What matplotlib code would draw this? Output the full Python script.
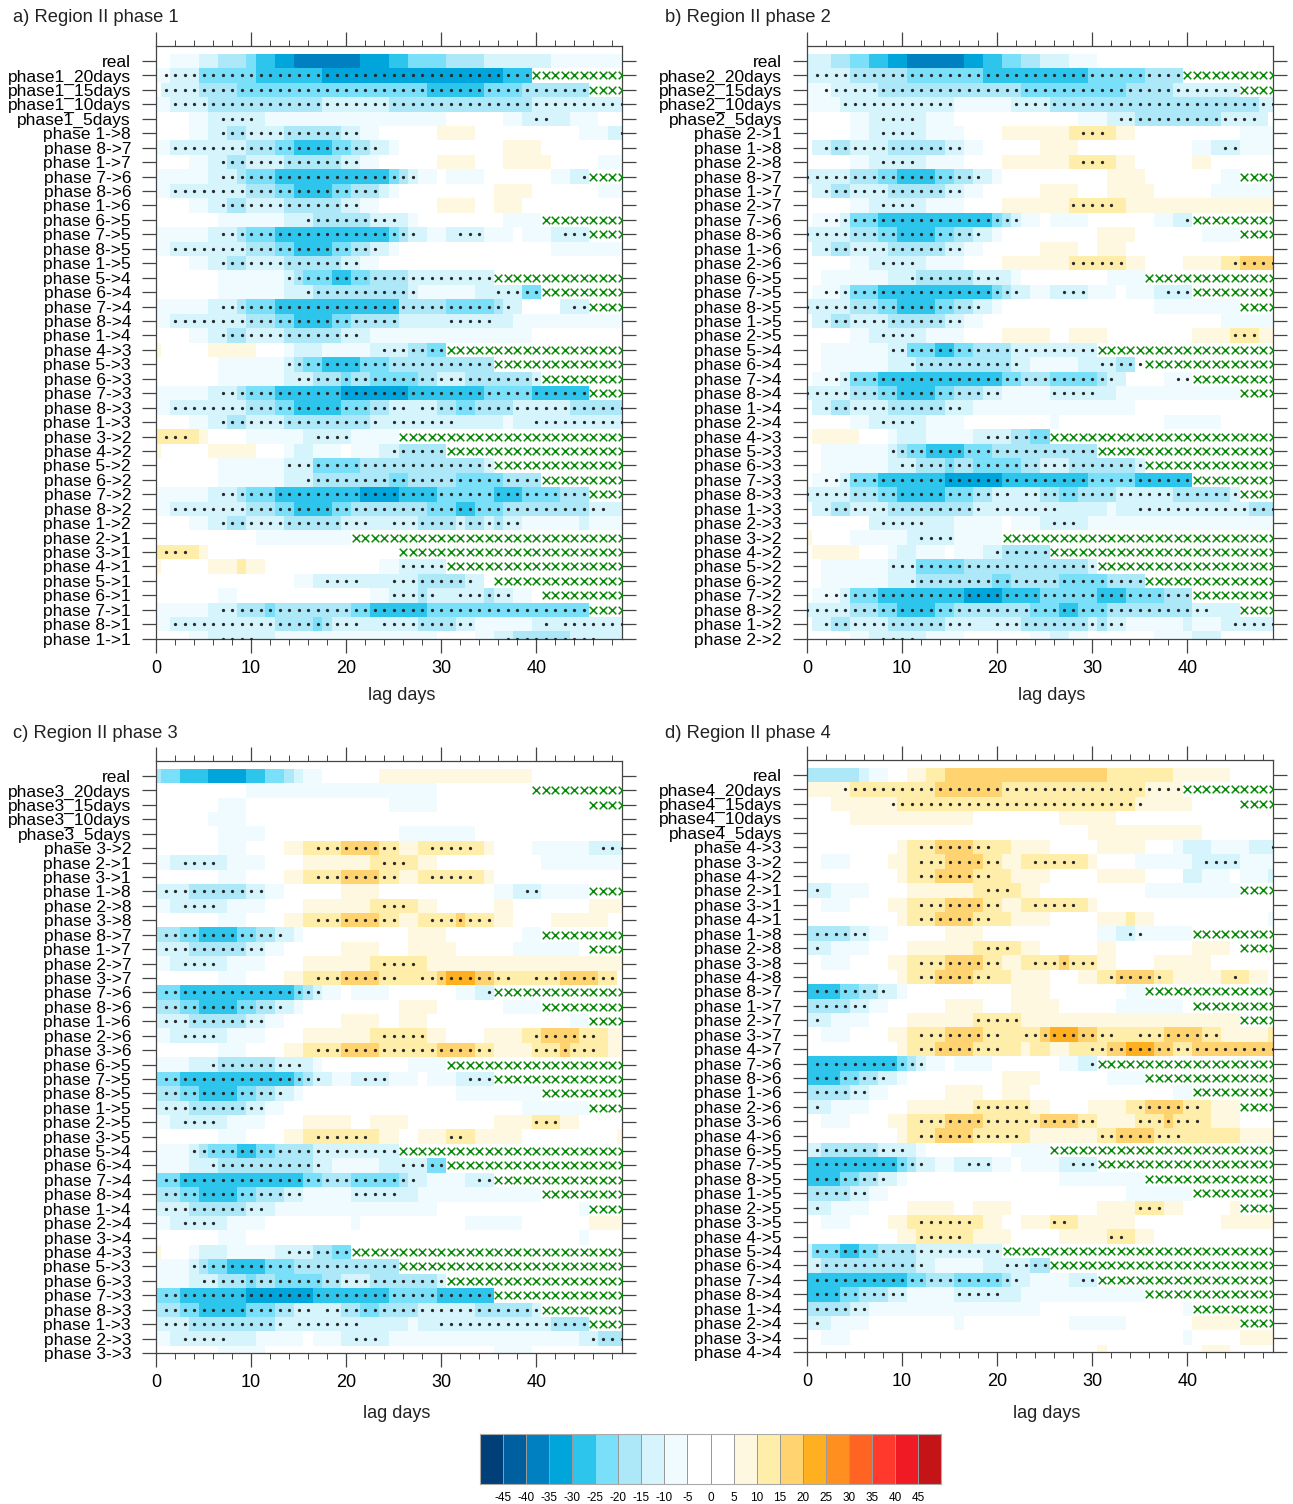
import numpy as np
import matplotlib
matplotlib.use("Agg")
import matplotlib.pyplot as plt
from matplotlib.colors import ListedColormap, BoundaryNorm

plt.rcParams["font.family"] = ["Liberation Sans", "DejaVu Sans"]

W, H = 1293, 1504

# contour levels and colours of the label bar
bounds = [-50, -45, -40, -35, -30, -25, -20, -15, -10, -5, 0, 5, 10, 15, 20, 25, 30, 35, 40, 45, 50]
colors = ["#003F78", "#005F9E", "#0080C0", "#00A5DC", "#2EC5EC", "#7ADFF8", "#ADE8F9", "#D5F4FC", "#EFFBFF",
          "#FFFFFF", "#FFFFFF", "#FFF8E1", "#FFEDAA", "#FFD470", "#FFB020", "#FF9020", "#FF6422", "#FF3A2C",
          "#EF1A24", "#C41418"]
bar_labels = [-45, -40, -35, -30, -25, -20, -15, -10, -5, 0, 5, 10, 15, 20, 25, 30, 35, 40, 45]

# a cell's value is written as a letter: a=-7.5 ... i=-47.5, A=7.5 ... I=47.5, - = near zero
level_values = {"-": 0, "a": -7.5, "b": -12.5, "c": -17.5, "d": -22.5, "e": -27.5, "f": -32.5, "g": -37.5,
                "A": 7.5, "B": 12.5, "C": 17.5, "D": 22.5}

# each row: runs of letter + index of the cell where the run ends
cells_a = [
    "-2 a5 b7 c10 d11 e13 f15 g22 f25 e27 d31 c35 b42 a50",
    "a2 b5 d11 e18 f37 e40 -50",
    "-1 b5 c9 d29 e35 d39 c46 -50",
    "a2 b6 c18 b25 c40 b50",
    "-4 a6 b12 a31 -37 a39 b44 a47 -50",
    "-4 a6 b8 c10 b14 c20 b22 a24 -30 A34 -45 a48 b50",
    "a2 b10 c13 d15 e19 d21 c23 b25 a26 -37 A41 -50",
    "-4 a6 b8 c10 b14 c20 b22 a24 -30 A34 -37 A42 -47 a50",
    "a6 b9 c10 d13 e25 d26 c27 b28 a30 -31 a35 -42 a44 b46 -50",
    "a2 b10 c13 d15 e19 d21 c24 b25 a26 -36 A40 -47 a50",
    "-4 a6 b8 c10 b14 c20 b22 a24 -30 A34 -36 A39 -50",
    "-7 a14 b17 c23 b27 a28 -37 a41 -50",
    "a6 b9 c10 d13 e25 d26 c27 b29 a31 b35 a38 -39 a42 b46 -50",
    "a2 b10 c13 d15 e19 d21 c23 b25 a26 -42 a50",
    "-4 a6 b8 c10 b14 c20 b22 a24 -50",
    "-7 a14 b15 c16 d19 e21 d23 c27 b36 -50",
    "-7 a14 b17 c27 b28 a34 b39 d41 -50",
    "a6 b9 c10 d13 e26 c31 d36 c37 b39 -43 b46 -50",
    "a2 b10 c13 d15 e19 d21 c26 b38 a50",
    "-4 a6 b8 c10 b14 c20 b23 a40 -50",
    "A1 -6 A11 -14 a15 b18 a23 b27 c29 d31 -50",
    "-7 a14 b15 c16 d18 e22 d25 c36 -50",
    "-7 a14 b17 c20 d21 c23 d28 c30 b33 c40 b41 -50",
    "a6 b9 c10 d13 e20 f27 e35 d40 e46 -50",
    "a2 b10 c13 d15 e20 d23 c25 b30 c32 d34 c38 b44 c50",
    "-4 a6 b8 c10 b14 c23 b37 a38 b50",
    "B5 A6 -10 a16 b21 a26 -50",
    "A1 -6 A11 -14 a15 b17 a20 -21 a24 b26 c31 -50",
    "-7 a14 b17 d22 c35 b36 -50",
    "-7 a14 b17 c25 d27 c32 d37 c41 -50",
    "a6 b9 c10 d13 e22 f26 e30 d36 e39 d43 c46 -50",
    "a2 b10 c13 d15 e19 d21 c29 d32 e34 d37 c46 b50",
    "-4 a6 b8 c10 b14 c20 b28 c32 b33 c35 b36 c37 b39 a45 b46 a50",
    "-11 a21 -50",
    "B5 A6 -50",
    "A1 -6 A9 B10 A12 -24 a26 b31 -50",
    "-15 a17 b28 c33 b35 -50",
    "-7 a9 -23 a25 b28 c29 b35 c36 b38 a40 -50",
    "a6 b9 c12 d13 c21 d23 e29 d46 -50",
    "a2 b13 c17 d18 c19 b28 c32 b34 a40 b50",
    "-4 a6 b13 a30 -34 a36 b38 c44 b50",
]
cells_b = [
    "b3 c5 d7 e9 f11 g17 f19 e21 d23 c25 b28 a31 -50",
    "b5 c11 d19 e30 d36 c40 -50",
    "a3 b8 c23 d34 c39 b46 -50",
    "a4 b16 a22 b26 c48 b50",
    "-5 a7 b13 a16 -29 a32 b35 c44 b49 -50",
    "-5 a7 b13 a17 -21 A28 B33 A35 -46 a50",
    "-1 b3 c5 b9 c15 b17 a19 -25 A29 -41 a43 b46 a50",
    "-5 a7 b13 a17 -21 A28 B33 A35 -41 A43 -50",
    "b5 c8 d10 e14 d16 c18 b20 a21 -32 A36 -44 a46 -50",
    "-1 b3 c5 b9 c15 b17 a19 -25 A29 -32 A37 -43 a50",
    "-5 a7 b13 a17 -21 A28 B34 A50",
    "-1 a4 b5 d8 e20 d21 c22 b23 a25 -26 a30 -37 a39 b41 -50",
    "b5 c8 d10 e14 d16 c18 b20 a21 -31 A35 -42 a46 -50",
    "-1 b3 c5 b9 c15 b17 a19 -25 A29 -31 A34 -50",
    "-5 a7 b13 a17 -21 A28 B34 A36 -40 A44 B46 C50",
    "-2 a9 b12 c18 b22 a23 -32 a36 -50",
    "-1 a4 b5 d8 e20 d21 c22 b24 a26 b30 a33 -34 a37 b41 -50",
    "b5 c8 d10 e14 d16 c18 b20 a21 -37 a46 -50",
    "-1 b3 c5 b9 c15 b17 a19 -44 a50",
    "-5 a7 b13 a17 -21 A26 -28 A32 -41 A45 B48 A50",
    "-2 a9 b11 d14 e16 d18 c22 b31 -50",
    "-2 a9 b12 c22 b24 a29 b33 c35 -50",
    "-1 a4 b5 d8 e21 d23 c26 d31 c32 b34 -38 a41 -50",
    "b5 c8 d10 e14 d16 c19 b21 a26 b33 a46 -50",
    "-1 b3 c5 b9 c15 b18 a35 -50",
    "-5 a7 b13 a17 -26 a27 -38 a44 -50",
    "-1 A6 -9 a10 b13 a18 b22 c24 d26 -50",
    "-2 a9 b10 c11 d13 e17 d20 c31 -50",
    "-2 a9 b12 c15 d16 c18 d23 c25 b28 c35 b36 -50",
    "-1 a4 b5 d8 e15 f21 e30 d35 e41 -50",
    "b5 c8 d10 e15 d18 c20 b25 c27 d29 c33 b39 c45 b46 -50",
    "-1 b3 c5 b9 c18 b32 a33 b47 c50",
    "-7 b16 a21 -22 a25 b30 a50",
    "A1 -5 a11 b16 a21 -50",
    "-1 A6 -9 a10 b12 a15 -16 a19 b21 c26 -50",
    "-2 a9 b12 d17 c30 b31 -50",
    "-2 a9 b12 c20 d22 c27 d32 c36 -50",
    "-1 a4 b5 d8 e17 f21 e25 d31 e34 d38 c41 -50",
    "b5 c8 d10 e14 d16 c24 d27 e29 d32 c41 b46 -50",
    "-1 b3 c5 b9 c15 b23 c30 b31 c32 b34 a40 b41 a44 b50",
    "-5 a7 b13 a17 -24 a26 b28 a30 -37 a41 b44 -50",
]
cells_c = [
    "c1 d3 e6 f10 e12 d14 c15 b16 a18 -24 A40 -50",
    "-10 a30 -50",
    "-7 a10 -25 a30 -50",
    "-6 a10 -50",
    "-7 a12 -26 a34 -50",
    "-7 a10 -14 A16 B20 C24 B26 A28 B35 A36 -40 a46 b50",
    "a2 b8 a12 -16 A23 B28 A30 -41 a50",
    "-7 a10 -14 A16 B20 C24 B26 A28 B35 A36 -50",
    "b4 c10 b12 a14 -20 A24 -36 a38 b41 a46 -50",
    "a2 b8 a12 -16 A23 B28 A30 -36 A38 -46 A50",
    "-7 a10 -14 A16 B20 C24 B26 A28 B32 C33 B36 A38 -42 A48 -50",
    "c3 d5 e9 d11 c13 b15 a16 -27 A31 -39 a41 -50",
    "b4 c10 b12 a14 -20 A24 -27 A32 -38 a45 -50",
    "a2 b8 a12 -16 A23 B29 A50",
    "-7 a10 -14 A16 B20 C24 B30 C31 D34 C36 B43 C47 B49 -50",
    "d3 e15 d16 c17 b18 a20 -21 a25 -32 a34 b36 -50",
    "c3 d5 e9 d11 c13 b15 a16 -26 A30 -37 a41 -50",
    "b4 c10 b12 a14 -20 A24 -26 A29 -44 a46 -50",
    "a2 b8 a12 -16 A23 B29 A31 -35 A39 B41 C45 B48 A50",
    "-7 a10 -14 A16 B20 C24 B30 C34 B36 A40 B43 C44 B48 A50",
    "a4 b7 c13 b17 a18 -27 a31 -50",
    "d3 e15 d16 c17 b19 a21 b25 a28 -29 a32 b36 -50",
    "c3 d5 e9 d11 c13 b15 a16 -32 a41 -50",
    "b4 c10 b12 a14 -39 a46 -50",
    "a2 b8 a12 -16 A21 -23 A27 -36 A40 B43 A45 -50",
    "-7 a10 -14 A16 B24 A26 -28 A31 B34 A39 -49 A50",
    "a4 b5 c6 d9 e11 d13 c17 b26 -50",
    "a4 b7 c17 b19 a24 b29 d31 -50",
    "d3 e16 d18 c21 d26 c27 b29 a33 b36 -50",
    "c3 d5 e9 d11 c14 b16 a21 b28 a41 -50",
    "b4 c10 b13 a30 -45 a46 -50",
    "a2 b8 a12 -21 a22 -33 a39 -46 A50",
    "-7 a10 -45 a46 -50",
    "A1 -4 a5 b8 a13 b17 c19 d21 -50",
    "a4 b5 c6 d8 e12 d15 c26 -50",
    "a4 b7 c10 d11 c13 d18 c20 b23 c30 b31 -50",
    "d3 e10 f17 e25 d30 e36 -50",
    "c3 d5 e10 d13 c15 b20 c22 d24 c28 b34 c40 b41 -50",
    "b4 c13 b27 a28 b42 c46 -50",
    "a2 b11 a16 -17 a20 b25 a45 b47 c50",
    "-7 a12 -36 a40 -50",
]
cells_d = [
    "c6 b7 a9 -11 A13 B15 C32 B39 A45 -50",
    "A5 B14 C21 B36 A40 -50",
    "-3 A10 B35 A41 -50",
    "-5 A18 -27 A33 -50",
    "-30 A42 -50",
    "-10 A11 B14 C18 B22 A26 -31 A36 -39 a40 b43 a47 b50",
    "-2 a5 -9 A11 B15 C19 B21 A23 B30 A31 -35 a41 b46 a50",
    "-10 A11 B14 C18 B22 A26 -31 A36 -40 b42 a45 -46 a49 b50",
    "b3 a7 -11 A18 B23 A25 -36 a46 -50",
    "-2 a5 -9 A11 B15 C19 B21 A23 B30 A31 -50",
    "-10 A11 B14 C18 B22 A26 -31 A34 B35 A37 -49 a50",
    "c5 b7 a9 -15 A19 -31 a33 b35 a41 -50",
    "b3 a7 -11 A18 B23 A25 -31 A33 -41 A45 -50",
    "-2 a5 -9 A11 B15 C19 B21 A23 B27 C28 B31 A33 -37 A43 -50",
    "-10 A11 B14 C18 B22 A26 -29 A31 B33 C37 B39 A44 B47 A49 -50",
    "e4 d6 c8 b10 a11 -22 A26 -34 a36 -50",
    "c5 b7 a9 -15 A19 -22 A27 -33 a40 -50",
    "b3 a7 -11 A18 B23 A46 -50",
    "-2 a5 -9 A11 B15 C19 B25 C26 D29 C31 B38 C42 B44 A49 B50",
    "-10 A11 B14 C18 B23 A24 B26 A28 B32 C34 D37 C39 B41 C50",
    "e10 d11 c12 b13 a15 -16 a20 -27 a29 b31 -50",
    "e4 d6 c8 b10 a11 -21 A25 -32 a36 -50",
    "c5 b7 a9 -15 A19 -21 A24 -39 a41 -50",
    "b3 a7 -11 A18 B24 A26 -30 A34 B36 C40 B43 A46 -50",
    "-2 a5 -9 A11 B15 C19 B25 C29 B31 A35 B38 C39 B43 A46 -50",
    "-10 A11 B14 C18 B24 A31 B33 C37 B46 A50",
    "b2 c8 b12 a13 -22 a26 -50",
    "e10 d11 c12 b14 a16 b20 a22 -23 a27 b31 -50",
    "e4 d6 c8 b10 a11 -27 a36 -50",
    "c5 b7 a9 -34 a41 -50",
    "b3 a7 -11 A16 -18 A22 -31 A35 B38 A40 -45 A46 -50",
    "-2 a5 -9 A11 B19 A21 -23 A26 B29 A35 -44 A50",
    "-10 A12 B18 A22 -27 A32 B35 A37 -50",
    "b1 d4 e6 d8 c12 b21 -50",
    "b2 c12 b14 a19 b24 c26 -50",
    "e11 d13 c16 d21 c22 b24 a28 b31 -50",
    "e4 d6 c9 b11 a16 b23 a36 -50",
    "c5 b7 a25 -40 a41 -50",
    "b3 a7 -16 a17 -28 a34 -41 A46 -50",
    "-2 a5 -40 a41 -46 A50",
    "-31 A32 -42 A45 -50",
]

# lag days with significance dots, per row
dots_a = ["", "1-39", "1-45", "2-49", "7-10 40-41", "7-21 49", "2-23", "7-21", "7-27 45", "2-23", "7-21", "16-25",
          "7-27 32-34 43-45", "2-23", "7-21", "14-35", "16-27 36-40", "7-37 44-45", "2-25 31-35", "7-21", "24-30",
          "14-35", "15-40", "7-45", "2-26 28-49", "7-23 25-31 40-49", "1-3 17-20", "25-30", "14-35", "16-40", "7-45",
          "2-47", "7-22 25-38", "", "1-3", "26-30", "18-21 25-33", "25-29 32-37", "7-45", "2-21 24-33 41 43-49",
          "7-10 37-46"]
dots_b = ["", "1-39", "2-45", "4-15 22-49", "8-11 33-47", "8-11 29-31", "2-16 44-45", "8-11 29-31", "0-18", "2-16",
          "8-11 28-32", "2-22 40", "0-18", "2-16", "8-11 28-33 45-49", "11-20", "2-22 27-29 38-40", "0-18", "2-16",
          "8-11 45-47", "9-30", "11-22 31-35", "2-32 39-40", "0-20 26-30", "2-16", "8-11", "19-25", "9-30", "10-35",
          "2-40", "0-21 23-45", "2-18 20-26 35-49", "8-12 26-28", "12-15", "20-25", "9-30", "11-35", "2-40", "0-42",
          "2-17 20-33 45-49", "8-11"]
dots_c = ["", "", "", "", "", "17-25 29-33 47-49", "3-6 24-26", "17-25 29-33", "1-11 39-40", "3-6 24-26",
          "17-25 29-35", "1-13", "1-11", "3-6 24-27", "17-25 28-37 40-48", "1-17 35", "1-13", "1-11",
          "3-6 24-28 40-46", "17-35 40-46", "6-15", "1-17 22-24 33-35", "1-13", "1-11", "3-6 40-42", "17-22 31-32",
          "4-25", "6-17 26-30", "1-27 34-35", "1-15 21-25", "1-11", "3-6", "", "14-20", "4-25", "5-30", "1-35",
          "1-16 18-40", "1-13 15-21 30-45", "3-7 21-23 46-49", ""]
dots_d = ["", "4-39", "9-35", "", "", "12-19 49", "12-20 24-28 42-45", "12-19", "1 19-21", "12-20 24-28", "12-19",
          "1-6 34-35", "1 19-21", "12-20 24-30", "12-19 32-37 45", "1-8", "1-6", "1 18-22", "12-20 23-32 35-43",
          "12-20 30-49", "1-12 30", "1-8", "1-6", "1 18-23 35-41", "12-30 35-41", "12-22 31-39", "1-10",
          "1-12 17-19 28-30", "1-8", "1-6", "1 35-37", "12-17 26-27", "12-16 32-33", "1-20", "1-12 21-25",
          "1-22 29-30", "1-10 16-20", "1-6", "1", "", ""]

# first lag day of the green crosses on each row (-1 = none), the same in all four panels
cross_start = [-1, 40, 46, -1, -1, -1, -1, -1, 46, -1, -1, 41, 46, -1, -1, 36, 41, 46, -1, -1, 31, 36, 41, 46, -1, -1,
               26, 31, 36, 41, 46, -1, -1, 21, 26, 31, 36, 41, 46, -1, -1]

trans_a = ["1->8", "8->7", "1->7", "7->6", "8->6", "1->6", "6->5", "7->5", "8->5", "1->5", "5->4", "6->4", "7->4",
           "8->4", "1->4", "4->3", "5->3", "6->3", "7->3", "8->3", "1->3", "3->2", "4->2", "5->2", "6->2", "7->2",
           "8->2", "1->2", "2->1", "3->1", "4->1", "5->1", "6->1", "7->1", "8->1", "1->1"]
trans_b = ["2->1", "1->8", "2->8", "8->7", "1->7", "2->7", "7->6", "8->6", "1->6", "2->6", "6->5", "7->5", "8->5",
           "1->5", "2->5", "5->4", "6->4", "7->4", "8->4", "1->4", "2->4", "4->3", "5->3", "6->3", "7->3", "8->3",
           "1->3", "2->3", "3->2", "4->2", "5->2", "6->2", "7->2", "8->2", "1->2", "2->2"]
trans_c = ["3->2", "2->1", "3->1", "1->8", "2->8", "3->8", "8->7", "1->7", "2->7", "3->7", "7->6", "8->6", "1->6",
           "2->6", "3->6", "6->5", "7->5", "8->5", "1->5", "2->5", "3->5", "5->4", "6->4", "7->4", "8->4", "1->4",
           "2->4", "3->4", "4->3", "5->3", "6->3", "7->3", "8->3", "1->3", "2->3", "3->3"]
trans_d = ["4->3", "3->2", "4->2", "2->1", "3->1", "4->1", "1->8", "2->8", "3->8", "4->8", "8->7", "1->7", "2->7",
           "3->7", "4->7", "7->6", "8->6", "1->6", "2->6", "3->6", "4->6", "6->5", "7->5", "8->5", "1->5", "2->5",
           "3->5", "4->5", "5->4", "6->4", "7->4", "8->4", "1->4", "2->4", "3->4", "4->4"]

cmap = ListedColormap(colors)
norm = BoundaryNorm(bounds, cmap.N)
LINE = "#444444"


def px_box(x0, y0, x1, y1):
    return [x0 / W, 1 - y1 / H, (x1 - x0) / W, (y1 - y0) / H]


def parse_cells(rows):
    out = []
    for row in rows:
        vals = []
        for tok in row.split():
            vals += [level_values[tok[0]]] * (int(tok[1:]) - len(vals))
        out.append(vals)
    return np.array(out, dtype=float)


def parse_days(text):
    days = []
    for tok in text.split():
        if "-" in tok:
            a, b = tok.split("-")
            days += list(range(int(a), int(b) + 1))
        else:
            days.append(int(tok))
    return days


def draw_panel(box, phase, cells, dots, trans, title, title_xy, xlabel_xy):
    ax = fig.add_axes(px_box(*box))
    ax.pcolormesh(np.arange(51) - 0.5, np.arange(42) - 0.5, parse_cells(cells), cmap=cmap, norm=norm)
    for r, text in enumerate(dots):
        days = parse_days(text)
        ax.scatter(days, [r] * len(days), s=5.5, c="#2A2A2A", linewidths=0, zorder=3)
    for r, start in enumerate(cross_start):
        if start >= 0:
            days = list(range(start, 50))
            ax.scatter(days, [r] * len(days), s=30, marker="x", c="#0A8A0A", linewidths=1.1, zorder=4)
    ax.set_xlim(0, 49)
    ax.set_ylim(40, -1.04)
    labels = ["real"] + [f"phase{phase}_{n}days" for n in (20, 15, 10, 5)] + ["phase " + t for t in trans]
    ax.set_yticks(range(41))
    ax.set_yticklabels(labels, fontsize=12.5, va="center_baseline")
    ax.set_xticks([0, 10, 20, 30, 40])
    ax.set_xticks(range(0, 50, 2), minor=True)
    ax.tick_params(axis="x", which="major", top=True, direction="out", length=10, width=0.9, color=LINE,
                   labelsize=13, pad=5)
    ax.tick_params(axis="x", which="minor", top=True, direction="out", length=4.5, width=0.7, color=LINE)
    ax.tick_params(axis="y", which="major", right=True, direction="out", length=10, width=0.9, color=LINE, pad=8)
    for s in ax.spines.values():
        s.set_color(LINE)
        s.set_linewidth(0.9)
    fig.text(title_xy[0] / W, 1 - title_xy[1] / H, title, fontsize=13.2, va="center", ha="left", color="#222222")
    fig.text(xlabel_xy[0] / W, 1 - xlabel_xy[1] / H, "lag days", fontsize=13, va="center", ha="center",
             color="#222222")


fig = plt.figure(figsize=(W / 100, H / 100), dpi=100)

draw_panel((156, 46, 622, 638.7), 1, cells_a, dots_a, trans_a, "a) Region II phase 1", (13, 18), (401.5, 696))
draw_panel((807, 46, 1273, 638.7), 2, cells_b, dots_b, trans_b, "b) Region II phase 2", (665, 18), (1052, 696))
draw_panel((156, 761, 622, 1353), 3, cells_c, dots_c, trans_c, "c) Region II phase 3", (13, 734), (397, 1414))
draw_panel((807, 760, 1273, 1352), 4, cells_d, dots_d, trans_d, "d) Region II phase 4", (665, 734), (1047, 1414))

# label bar
cax = fig.add_axes(px_box(480, 1434, 941, 1484))
mids = (np.array(bounds[:-1]) + np.array(bounds[1:])) / 2
cax.pcolormesh(bounds, [0, 1], mids.reshape(1, -1), cmap=cmap, norm=norm, edgecolors="#999999", linewidth=0.4)
cax.set_xticks(bar_labels)
cax.set_xticklabels(bar_labels, fontsize=8.5)
cax.set_yticks([])
cax.tick_params(axis="x", length=0, pad=6)
for s in cax.spines.values():
    s.set_color("#AAAAAA")

fig.savefig("out.png", dpi=100)
